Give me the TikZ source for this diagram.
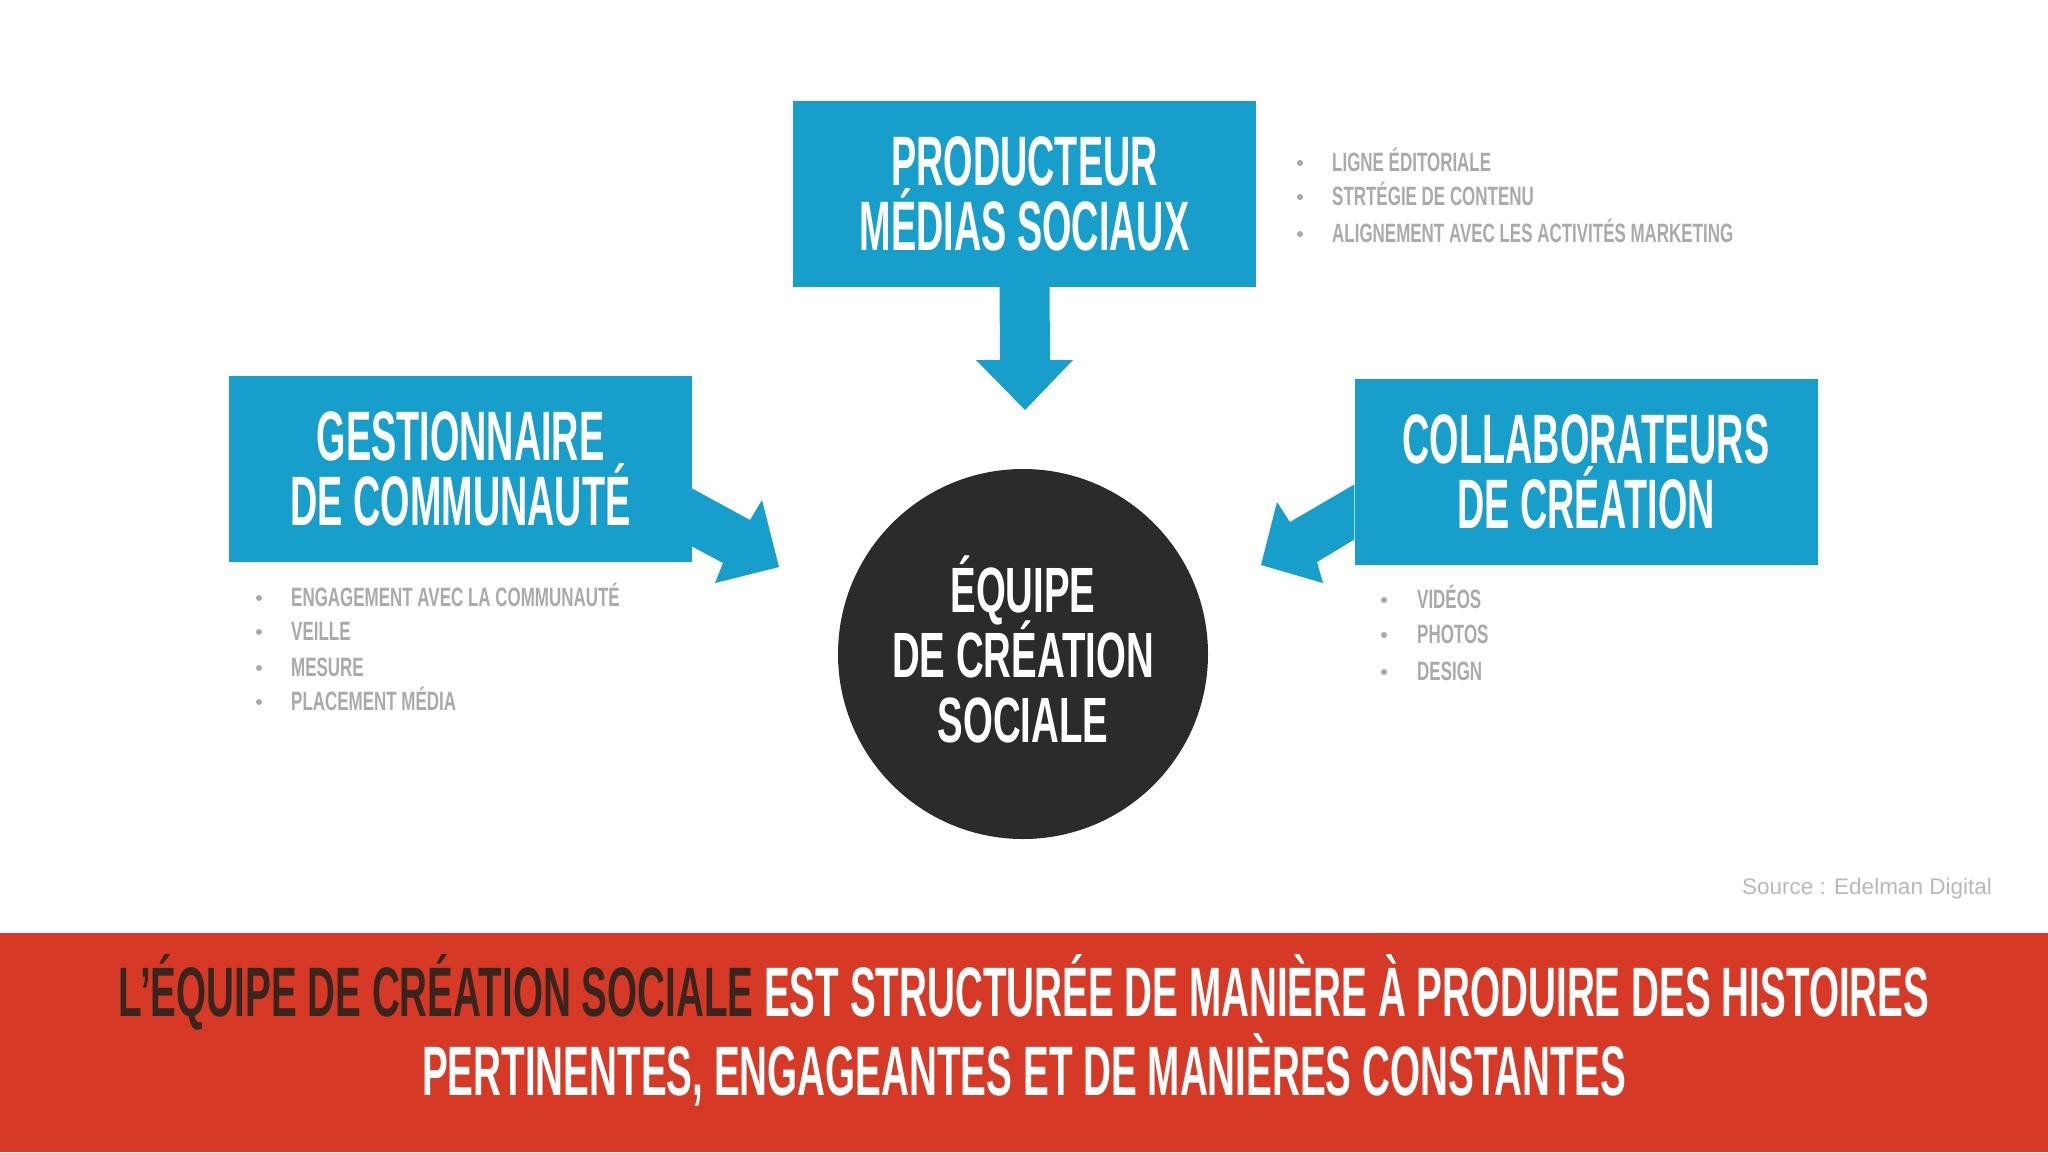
\documentclass[tikz,border=0pt]{standalone}
\usepackage{fontspec}
\setmainfont{Liberation Sans}
\newfontfamily\condT[FakeStretch=0.54]{Liberation Sans}
\newfontfamily\condW[FakeStretch=0.552]{Liberation Sans}
\newfontfamily\condC[FakeStretch=0.60]{Liberation Sans}
\newfontfamily\condB[FakeStretch=0.64]{Liberation Sans}
\newcommand\mytightls{\lineskiplimit-100pt\relax}
\definecolor{boxblue}{RGB}{24,158,203}
\definecolor{circdark}{RGB}{43,43,43}
\definecolor{bandred}{RGB}{214,58,38}
\definecolor{banddark}{RGB}{58,36,30}
\definecolor{bulgray}{RGB}{170,170,170}
\definecolor{srcgray}{RGB}{185,185,185}
\tikzset{
  bluebox/.style={rectangle, fill=boxblue, inner sep=0pt, minimum width=463pt, minimum height=186pt,
    text=white, align=center, font=\condT\bfseries\fontsize{70}{65}\selectfont\mytightls},
  teamcircle/.style={circle, fill=circdark, inner sep=0pt, minimum size=370pt},
  teamtext/.style={inner sep=0pt, text=white, align=center, font=\condC\bfseries\fontsize{64}{65}\selectfont\mytightls},
  bultext/.style={anchor=base west, inner sep=0pt, text=bulgray, font=\condB\bfseries\fontsize{26.5}{30}\selectfont},
  bandtext/.style={anchor=base, inner sep=0pt, text=white, font=\condW\bfseries\fontsize{70}{79}\selectfont},
  bigarrow/.style={fill=boxblue}
}
\begin{document}
\begin{tikzpicture}[x=1pt,y=-1pt]
\useasboundingbox (0,0) rectangle (2048,1152);
\fill[white] (0,0) rectangle (2048,1152);
\fill[bandred] (0,933) rectangle (2048,1152);

% boxes and centre
\node[bluebox] (prod) at (1024.5,194) {PRODUCTEUR\\MÉDIAS SOCIAUX};
\node[bluebox] (gest) at (460.5,468.5) {GESTIONNAIRE\\DE COMMUNAUTÉ};
\node[bluebox] (coll) at (1586,471.5) {COLLABORATEURS\\DE CRÉATION};
\node[teamcircle] (team) at (1023,654) {};
\node[teamtext] (teamlbl) at ([yshift=5pt]team.center) {ÉQUIPE\\DE CRÉATION\\SOCIALE};

% block arrows
\coordinate (tipT) at (1025,410);
\coordinate (tipL) at (779,567);
\coordinate (tipR) at (1261,565);
\fill[bigarrow] ([xshift=-25pt]prod.south) -- (1000,360) -- (976,360) -- (tipT)
  -- (1073,360) -- (1050,360) -- ([xshift=25pt]prod.south) -- cycle;
\fill[bigarrow] ([yshift=-20pt]gest.east) -- (750,520) -- (762,500) -- (tipL)
  -- (715,583) -- (723,563) -- ([yshift=-78pt]gest.east) -- cycle;
\fill[bigarrow] ([yshift=-13pt]coll.west) -- (1290,522) -- (1277,502) -- (tipR)
  -- (1323,583) -- (1317,562) -- ([yshift=-68pt]coll.west) -- cycle;

% bullet lists
\foreach \y/\t/\n in {171/LIGNE ÉDITORIALE/pa, 205/STRTÉGIE DE CONTENU/pb, 242/ALIGNEMENT AVEC LES ACTIVITÉS MARKETING/pc}{
  \fill[bulgray] (1300,\y-8) circle (3);
  \node[bultext] (\n) at (1332,\y) {\t};
}
\foreach \y/\t/\n in {606/ENGAGEMENT AVEC LA COMMUNAUTÉ/ga, 640/VEILLE/gb, 676/MESURE/gc, 710/PLACEMENT MÉDIA/gd}{
  \fill[bulgray] (259,\y-8) circle (3);
  \node[bultext] (\n) at (291,\y) {\t};
}
\foreach \y/\t/\n in {608/VIDÉOS/ca, 643/PHOTOS/cb, 680/DESIGN/cc}{
  \fill[bulgray] (1384,\y-8) circle (3);
  \node[bultext] (\n) at (1417,\y) {\t};
}

% source
\node[anchor=base east, inner sep=0pt, text=srcgray, font=\fontsize{22.5}{25}\selectfont] (src) at (1992,894) {Source : Edelman Digital};

% band text
\node[bandtext] (l1) at (1024,1016) {{\color{banddark}L’ÉQUIPE DE CRÉATION SOCIALE} EST STRUCTURÉE DE MANIÈRE À PRODUIRE DES HISTOIRES};
\node[bandtext] (l2) at (1024,1095) {PERTINENTES, ENGAGEANTES ET DE MANIÈRES CONSTANTES};
\end{tikzpicture}
\end{document}
